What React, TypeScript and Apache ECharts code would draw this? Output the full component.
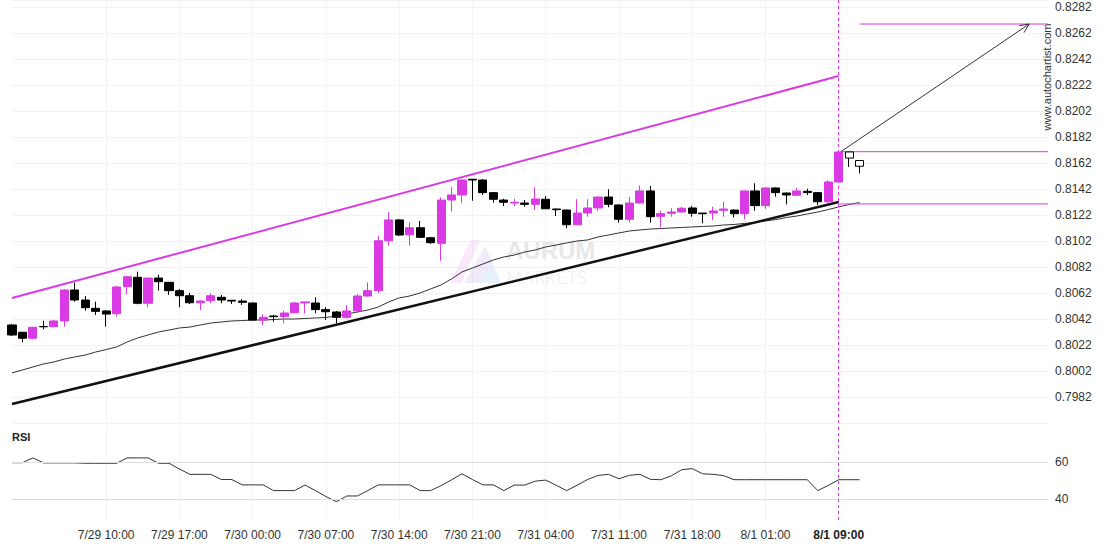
import React, { useEffect, useRef } from "react";
import * as echarts from "echarts";

// ---- categories (hourly) ----
const categories: string[] = Array.from({ length: 100 }, (_, i) => {
  const h = 1 + i + (i >= 76 ? 1 : 0);
  let day = 29 + Math.floor(h / 24);
  let month = 7;
  if (day > 31) { month = 8; day -= 31; }
  const hh = String(h % 24).padStart(2, "0");
  return `${month}/${day} ${hh}:00`;
});
const tickIndices = [9, 16, 23, 30, 37, 44, 51, 58, 65, 72, 79];
const signalIndex = 79;

// ---- candles: [open, close, low, high] ----
const candles: number[][] = [
  [0.80374, 0.80297, 0.80289, 0.80382],
  [0.80318, 0.80272, 0.80241, 0.8032],
  [0.80272, 0.80356, 0.80264, 0.80359],
  [0.80362, 0.8036, 0.80341, 0.80407],
  [0.80361, 0.80405, 0.80355, 0.80412],
  [0.80405, 0.80643, 0.80361, 0.80649],
  [0.80643, 0.80566, 0.80553, 0.80699],
  [0.80566, 0.80507, 0.80484, 0.80597],
  [0.80502, 0.80479, 0.80451, 0.80553],
  [0.80482, 0.80458, 0.80361, 0.80489],
  [0.80461, 0.80666, 0.80438, 0.80674],
  [0.80669, 0.80745, 0.8061, 0.80751],
  [0.80741, 0.80541, 0.80533, 0.80784],
  [0.80541, 0.80735, 0.8051, 0.8074],
  [0.80735, 0.80707, 0.80638, 0.80761],
  [0.80702, 0.80638, 0.80605, 0.80705],
  [0.80638, 0.80599, 0.8051, 0.80651],
  [0.80599, 0.80545, 0.80535, 0.80622],
  [0.80545, 0.80558, 0.80489, 0.80562],
  [0.80561, 0.80599, 0.80541, 0.80618],
  [0.80587, 0.80566, 0.80541, 0.80605],
  [0.80564, 0.80558, 0.80535, 0.80566],
  [0.80558, 0.80548, 0.80528, 0.80572],
  [0.80543, 0.80412, 0.80407, 0.80547],
  [0.80412, 0.80433, 0.80374, 0.80456],
  [0.80443, 0.80438, 0.80399, 0.80451],
  [0.80438, 0.80466, 0.80387, 0.80484],
  [0.80468, 0.80543, 0.80466, 0.80551],
  [0.80543, 0.80551, 0.80464, 0.80551],
  [0.80543, 0.80492, 0.80464, 0.80587],
  [0.80492, 0.80476, 0.80412, 0.8051],
  [0.80474, 0.80433, 0.80387, 0.80482],
  [0.80433, 0.80482, 0.80424, 0.80528],
  [0.80482, 0.80597, 0.80468, 0.80612],
  [0.80597, 0.80638, 0.80593, 0.80702],
  [0.80638, 0.81022, 0.80618, 0.81058],
  [0.81022, 0.81182, 0.80984, 0.81241],
  [0.81182, 0.81066, 0.81058, 0.81189],
  [0.81068, 0.81122, 0.80984, 0.81164],
  [0.81122, 0.81048, 0.81043, 0.81174],
  [0.81045, 0.81007, 0.80997, 0.81051],
  [0.81002, 0.81335, 0.80868, 0.81356],
  [0.81335, 0.81374, 0.81248, 0.81433],
  [0.81374, 0.81489, 0.81315, 0.81497],
  [0.81495, 0.81489, 0.8133, 0.81495],
  [0.81489, 0.81392, 0.81374, 0.81495],
  [0.81392, 0.81341, 0.81315, 0.81397],
  [0.81335, 0.81318, 0.81289, 0.81345],
  [0.81312, 0.81318, 0.81289, 0.81345],
  [0.81312, 0.81302, 0.81284, 0.81335],
  [0.81302, 0.81343, 0.81258, 0.81433],
  [0.81341, 0.81268, 0.81266, 0.81366],
  [0.81266, 0.81261, 0.81212, 0.8127],
  [0.81258, 0.81145, 0.81118, 0.81262],
  [0.81145, 0.81235, 0.81143, 0.81341],
  [0.81235, 0.81274, 0.81207, 0.81341],
  [0.81274, 0.81358, 0.81253, 0.81362],
  [0.81358, 0.81302, 0.81279, 0.81418],
  [0.81297, 0.81187, 0.81161, 0.81301],
  [0.81187, 0.81312, 0.81161, 0.81361],
  [0.81312, 0.81405, 0.81308, 0.81448],
  [0.81405, 0.81207, 0.81161, 0.81443],
  [0.8121, 0.8123, 0.81125, 0.81253],
  [0.81233, 0.81243, 0.81207, 0.81272],
  [0.81243, 0.81272, 0.81239, 0.81284],
  [0.81274, 0.81233, 0.81207, 0.81289],
  [0.81235, 0.8123, 0.81156, 0.81235],
  [0.81235, 0.81251, 0.81182, 0.81284],
  [0.81256, 0.81266, 0.81207, 0.8132],
  [0.81258, 0.8123, 0.81202, 0.81262],
  [0.8123, 0.81405, 0.81187, 0.81408],
  [0.81405, 0.81292, 0.81253, 0.81464],
  [0.81292, 0.81428, 0.81268, 0.81431],
  [0.81428, 0.81392, 0.81361, 0.81431],
  [0.81389, 0.81374, 0.81302, 0.81392],
  [0.81372, 0.81405, 0.8137, 0.81428],
  [0.81402, 0.81392, 0.81374, 0.81422],
  [0.81392, 0.81322, 0.81297, 0.81397],
  [0.81322, 0.81474, 0.8131, 0.81489],
  [0.81474, 0.81705, 0.8147, 0.81712],
  [0.81705, 0.81658, 0.81589, 0.81705],
  [0.81639, 0.81595, 0.8154, 0.81639],
];
const hollowFrom = 80; // candles after the signal are drawn hollow

// ---- moving average ----
const maValues = [
  0.80005, 0.80028, 0.80051, 0.80074, 0.80089, 0.80112, 0.80128, 0.80143, 0.80166, 0.80185,
  0.80205, 0.80243, 0.80274, 0.80297, 0.8032, 0.80335, 0.80351, 0.80358, 0.80374, 0.80389,
  0.80397, 0.80405, 0.80408, 0.80412, 0.80412, 0.80416, 0.8042, 0.8042, 0.80424, 0.80428,
  0.80432, 0.80443, 0.80458, 0.80474, 0.80489, 0.80512, 0.80551, 0.80582, 0.80597, 0.8062,
  0.80651, 0.80682, 0.80728, 0.80782, 0.80812, 0.80843, 0.80874, 0.80897, 0.80912, 0.80935,
  0.80951, 0.80974, 0.80989, 0.81005, 0.8102, 0.81028, 0.81051, 0.81066, 0.81082, 0.81097,
  0.81105, 0.81112, 0.81116, 0.8112, 0.81124, 0.81128, 0.81132, 0.81135, 0.81143, 0.81147,
  0.81155, 0.81162, 0.81174, 0.81185, 0.81201, 0.81212, 0.81228, 0.81243, 0.81262, 0.81282,
  0.81301, 0.81316,
];

// ---- RSI ----
const rsiValues = [
  59.6, 59.6, 62.2, 59.5, 59.5, 59.5, 59.5, 59.3, 59.3, 59.3,
  59.3, 62.2, 62.2, 62.2, 59.3, 59.3, 56.2, 53.3, 53.3, 53.3,
  50.5, 50.5, 47.6, 47.6, 47.6, 44.5, 44.5, 44.5, 47.5, 44.5,
  41.3, 38.5, 41.6, 41.6, 44.5, 47.6, 47.6, 47.6, 47.6, 44.5,
  44.5, 47.2, 50.3, 53.6, 50.5, 47.6, 47.6, 44.5, 47.5, 47.5,
  49.6, 50.2, 47.4, 44.5, 47.4, 50.5, 52.7, 53.3, 50.9, 52.8,
  53.3, 50.6, 50.4, 52.5, 55.8, 56.4, 53.6, 53.3, 52.6, 50.4,
  50.4, 50.4, 50.4, 50.4, 50.4, 50.4, 50.4, 44.5, 47.3, 50.4,
  50.4, 50.4,
];
const rsiGuides = [40, 60];

// ---- pattern / forecast annotations: [index, price] ----
const channelUpper = [[0, 0.80582], [79, 0.82289]];
const supportLine = [[0, 0.79766], [79, 0.8132]];
const levelTop = [[81, 0.82689], [99, 0.82689]];
const levelMid = [[79.2, 0.81707], [99, 0.81707]];
const levelLow = [[79, 0.81305], [99, 0.81305]];
const forecastArrow = [[79.2, 0.81707], [97.2, 0.82689]];

const MAGENTA = "#d93ae3";
const FONT = "'Liberation Sans', Arial, sans-serif";

export default function App() {
  const ref = useRef<HTMLDivElement>(null);

  useEffect(() => {
    if (!ref.current) return;
    const chart = echarts.init(ref.current, null, { renderer: "svg" });
    const tickSet = new Set(tickIndices);
    const isTick = (idx: number) => tickSet.has(idx);

    const candleData = candles.map((c, i) =>
      i >= hollowFrom
        ? {
            value: c,
            itemStyle: { color: "#ffffff", color0: "#ffffff", borderColor: "#000", borderColor0: "#000" },
          }
        : c
    );

    const plainLine = (data: number[][], color: string, width: number, z = 3) => ({
      type: "line",
      xAxisIndex: 1,
      yAxisIndex: 0,
      data,
      symbol: "none",
      silent: true,
      z,
      lineStyle: { color, width },
    });

    const option: any = {
      animation: false,
      backgroundColor: "#ffffff",
      textStyle: { fontFamily: FONT },
      grid: [
        { left: 12, right: 62, top: 0, height: 423 },
        { left: 12, right: 62, top: 425, height: 95 },
      ],
      xAxis: [
        {
          type: "category",
          gridIndex: 0,
          data: categories,
          boundaryGap: false,
          axisLine: { show: false },
          axisTick: { show: false },
          axisLabel: { show: false },
          splitLine: { show: true, interval: isTick, lineStyle: { color: "#f3f3f3" } },
        },
        { type: "value", gridIndex: 0, min: 0, max: categories.length - 1, show: false },
        {
          type: "category",
          gridIndex: 1,
          data: categories,
          boundaryGap: false,
          axisLine: { show: false },
          axisTick: { show: false },
          axisLabel: {
            interval: isTick,
            margin: 9,
            fontSize: 12,
            color: "#333",
            fontFamily: FONT,
            formatter: (v: string) => (v === categories[signalIndex] ? `{b|${v}}` : v),
            rich: { b: { fontWeight: "bold", fontSize: 12, color: "#222", fontFamily: FONT } },
          },
          splitLine: { show: true, interval: isTick, lineStyle: { color: "#f3f3f3" } },
        },
      ],
      yAxis: [
        {
          type: "value",
          gridIndex: 0,
          position: "right",
          min: 0.7962,
          max: 0.828738,
          interval: 0.002,
          axisLine: { show: false },
          axisTick: { show: false },
          axisLabel: {
            margin: 7,
            fontSize: 12,
            color: "#333",
            fontFamily: FONT,
            showMinLabel: false,
            showMaxLabel: false,
            formatter: (v: number) => v.toFixed(4),
          },
          splitLine: { lineStyle: { color: "#f2f2f2" } },
        },
        {
          type: "value",
          gridIndex: 1,
          position: "right",
          min: 28.6,
          max: 80,
          axisLine: { show: false },
          axisTick: { show: false },
          splitLine: { show: false },
          axisLabel: {
            margin: 7,
            fontSize: 12,
            color: "#333",
            fontFamily: FONT,
            formatter: (v: number) => (rsiGuides.includes(Math.round(v * 1000) / 1000) ? String(v) : ""),
          },
        },
      ],
      series: [
        {
          type: "candlestick",
          xAxisIndex: 0,
          yAxisIndex: 0,
          data: candleData,
          barWidth: 8.6,
          z: 4,
          itemStyle: {
            color: MAGENTA,
            color0: "#000000",
            borderColor: MAGENTA,
            borderColor0: "#000000",
            borderWidth: 1,
          },
          markLine: {
            silent: true,
            symbol: ["none", "none"],
            label: { show: false },
            lineStyle: { color: MAGENTA, type: [3, 3], width: 1 },
            data: [{ xAxis: categories[signalIndex] }],
          },
        },
        {
          type: "line",
          xAxisIndex: 0,
          yAxisIndex: 0,
          data: maValues,
          symbol: "none",
          silent: true,
          z: 3,
          lineStyle: { color: "#333", width: 1 },
        },
        plainLine(channelUpper, MAGENTA, 2),
        plainLine(supportLine, "#111", 2.5),
        plainLine(levelTop, MAGENTA, 1),
        plainLine(levelMid, MAGENTA, 1),
        plainLine(levelLow, MAGENTA, 1),
        plainLine(forecastArrow, "#333", 1),
        {
          type: "line",
          xAxisIndex: 2,
          yAxisIndex: 1,
          data: rsiValues,
          symbol: "none",
          silent: true,
          lineStyle: { color: "#333", width: 1 },
          markLine: {
            silent: true,
            symbol: ["none", "none"],
            label: { show: false },
            data: [
              ...rsiGuides.map((g) => ({ yAxis: g, lineStyle: { color: "#dddddd", type: "solid", width: 1 } })),
              { xAxis: categories[signalIndex], lineStyle: { color: MAGENTA, type: [3, 3], width: 1 } },
            ],
          },
        },
      ],
    };

    chart.setOption(option);

    // arrow head from data via the axes
    const tail = chart.convertToPixel({ seriesIndex: 7 }, forecastArrow[0]) as number[];
    const tip = chart.convertToPixel({ seriesIndex: 7 }, forecastArrow[1]) as number[];
    const dx = tip[0] - tail[0];
    const dy = tip[1] - tail[1];
    const len = Math.hypot(dx, dy) || 1;
    const ux = dx / len;
    const uy = dy / len;
    const ang = (25 * Math.PI) / 180;
    const L = 10;
    const rot = (a: number) => [ux * Math.cos(a) - uy * Math.sin(a), ux * Math.sin(a) + uy * Math.cos(a)];
    const r1 = rot(ang);
    const r2 = rot(-ang);
    const b1 = [tip[0] - r1[0] * L, tip[1] - r1[1] * L];
    const b2 = [tip[0] - r2[0] * L, tip[1] - r2[1] * L];

    chart.setOption({
      graphic: [
        // watermark logo
        {
          type: "polygon",
          z: 0,
          silent: true,
          shape: { points: [[450, 283], [471, 240], [480, 240], [461, 283]] },
          style: { fill: "rgba(230, 150, 235, 0.22)" },
        },
        {
          type: "polygon",
          z: 0,
          silent: true,
          shape: { points: [[464, 283], [485, 246], [492, 262], [478, 283]] },
          style: { fill: "rgba(190, 160, 235, 0.22)" },
        },
        {
          type: "polygon",
          z: 0,
          silent: true,
          shape: { points: [[478, 283], [492, 262], [501, 283]] },
          style: { fill: "rgba(150, 195, 240, 0.25)" },
        },
        {
          type: "text",
          z: 0,
          silent: true,
          left: 506,
          top: 238,
          style: { text: "AURUM", fill: "#e8e8e8", font: "bold 24px 'Liberation Sans', Arial, sans-serif" },
        },
        {
          type: "text",
          z: 0,
          silent: true,
          left: 506,
          top: 268,
          style: { text: "MARKETS", fill: "#ebebeb", font: "300 18px Lato, 'Liberation Sans', sans-serif" },
        },
        {
          type: "text",
          left: 12,
          top: 431,
          style: { text: "RSI", fill: "#222", font: "bold 11px 'Liberation Sans', Arial, sans-serif" },
        },
        {
          type: "text",
          x: 1047,
          y: 77,
          rotation: Math.PI / 2,
          style: {
            text: "www.autochartist.com",
            fill: "#333",
            font: "11px 'Liberation Sans', Arial, sans-serif",
            align: "center",
            verticalAlign: "middle",
          },
        },
        {
          type: "polyline",
          z: 10,
          silent: true,
          shape: { points: [b1, tip, b2] },
          style: { stroke: "#333", lineWidth: 1, fill: null },
        },
      ],
    });

    return () => chart.dispose();
  }, []);

  return (
    <div
      ref={ref}
      style={{ position: "fixed", left: 0, top: 0, width: 1110, height: 550, background: "#fff" }}
    />
  );
}
